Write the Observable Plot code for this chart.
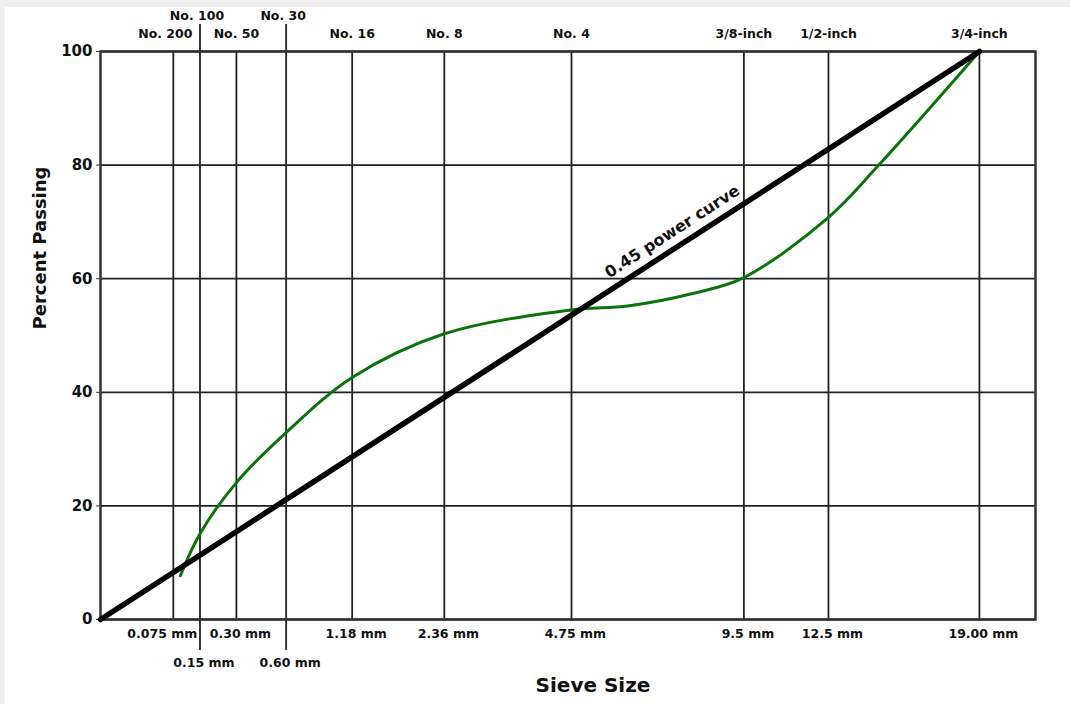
<!DOCTYPE html>
<html>
<head>
<meta charset="utf-8">
<script src="https://cdn.jsdelivr.net/npm/d3@7"></script>
<script src="https://cdn.jsdelivr.net/npm/@observablehq/plot@0.6"></script>
<style>
  html, body { margin: 0; padding: 0; background: #fff; }
  #chart { position: absolute; left: 0; top: 0; }
  .strip-top { position: absolute; left: 0; top: 0; width: 1070px; height: 7px; background: #efefef; }
  .strip-left { position: absolute; left: 0; top: 0; width: 5px; height: 704px; background: #f0f0f0; }
</style>
</head>
<body>
<div id="chart"></div>
<div class="strip-top"></div>
<div class="strip-left"></div>
<script>
// ---- data ----
const sieveSizesMm = [0.075, 0.15, 0.30, 0.60, 1.18, 2.36, 4.75, 9.5, 12.5, 19.0];
const sieveNames = ["No. 200", "No. 100", "No. 50", "No. 30", "No. 16", "No. 8", "No. 4", "3/8-inch", "1/2-inch", "3/4-inch"];
const sieveMmLabels = ["0.075 mm", "0.15 mm", "0.30 mm", "0.60 mm", "1.18 mm", "2.36 mm", "4.75 mm", "9.5 mm", "12.5 mm", "19.00 mm"];
const staggeredSizes = [0.15, 0.60];
const percentTicks = [0, 20, 40, 60, 80, 100];

// gradation curve (sieve size mm, percent passing)
const gradationMm = [0.092, 0.15, 0.30, 0.60, 1.18, 2.36, 4.75, 6.1, 7.9, 9.5, 12.5, 14.5, 19.0];
const gradationPct = [7.7, 15.1, 24.1, 32.9, 42.6, 50.3, 54.5, 55.2, 57.4, 60.2, 70.8, 80.0, 100.0];

// 0.45 power maximum density line
const powerMm = [0, 19.0];
const powerPct = [0, 100];
const powerLabel = {text: "0.45 power curve", mm: 7.55, percent: 66};

// ---- tables ----
const sieves = sieveSizesMm.map((mm, i) => ({mm, name: sieveNames[i], label: sieveMmLabels[i], stagger: staggeredSizes.includes(mm)}));
const gradation = gradationMm.map((mm, i) => ({mm, pct: gradationPct[i]}));
const power = powerMm.map((mm, i) => ({mm, pct: powerPct[i]}));

const first = sieves.slice(0, 1);
const rest = sieves.slice(1);
const font = "'DejaVu Sans', Verdana, sans-serif";

const chart = Plot.plot({
  width: 1070,
  height: 704,
  marginLeft: 100,
  marginRight: 35,
  marginTop: 51,
  marginBottom: 85,
  style: {fontFamily: font, fontWeight: "bold", color: "#111", background: "transparent"},
  x: {type: "pow", exponent: 0.45, domain: [0, 21.8], axis: null},
  y: {domain: [0, 100], axis: null},
  marks: [
    Plot.gridY(percentTicks, {stroke: "#222", strokeOpacity: 1, strokeWidth: 1.8}),
    Plot.ruleX(sieves.filter(d => !d.stagger), {x: "mm", stroke: "#222", strokeWidth: 1.8}),
    Plot.ruleX(sieves.filter(d => d.stagger), {x: "mm", stroke: "#222", strokeWidth: 1.8, insetTop: -27, insetBottom: -31}),
    Plot.frame({stroke: "#333", strokeWidth: 2.5}),
    Plot.axisY(percentTicks, {label: null, tickSize: 4, tickPadding: 4, fontSize: 15, stroke: "#333", fill: "#111"}),
    Plot.line(gradation, {x: "mm", y: "pct", curve: "catmull-rom", stroke: "#0b730b", strokeWidth: 3}),
    Plot.line(power, {x: "mm", y: "pct", stroke: "#000", strokeWidth: 5.5}),
    // top labels (sieve numbers)
    Plot.text(first, {x: "mm", y: 100, text: "name", dy: -18, dx: -8, fontSize: 12.5, lineAnchor: "middle", fill: "#111"}),
    Plot.text(rest.filter(d => !d.stagger), {x: "mm", y: 100, text: "name", dy: -18, fontSize: 12.5, lineAnchor: "middle", fill: "#111"}),
    Plot.text(rest.filter(d => d.stagger), {x: "mm", y: 100, text: "name", dy: -36, dx: -3, fontSize: 12.5, lineAnchor: "middle", fill: "#111"}),
    // bottom labels (mm)
    Plot.text(first, {x: "mm", y: 0, text: "label", dy: 14, dx: -11, fontSize: 12.5, lineAnchor: "middle", fill: "#111"}),
    Plot.text(rest.filter(d => !d.stagger), {x: "mm", y: 0, text: "label", dy: 14, dx: 4, fontSize: 12.5, lineAnchor: "middle", fill: "#111"}),
    Plot.text(rest.filter(d => d.stagger), {x: "mm", y: 0, text: "label", dy: 43, dx: 4, fontSize: 12.5, lineAnchor: "middle", fill: "#111"}),
    // power curve label
    Plot.text([powerLabel], {x: "mm", y: "percent", text: "text", rotate: -32.9, dx: -8.4, dy: -13, fontSize: 16, lineAnchor: "middle", fill: "#111"}),
    // axis titles
    Plot.text(["Percent Passing"], {frameAnchor: "left", text: d => d, rotate: -90, dx: -60, dy: -6, fontSize: 18, lineAnchor: "middle", fill: "#111"}),
    Plot.text(["Sieve Size"], {frameAnchor: "bottom", text: d => d, dx: 25, dy: 66, fontSize: 20, lineAnchor: "middle", fill: "#111"})
  ]
});
document.getElementById("chart").append(chart);
</script>
</body>
</html>
